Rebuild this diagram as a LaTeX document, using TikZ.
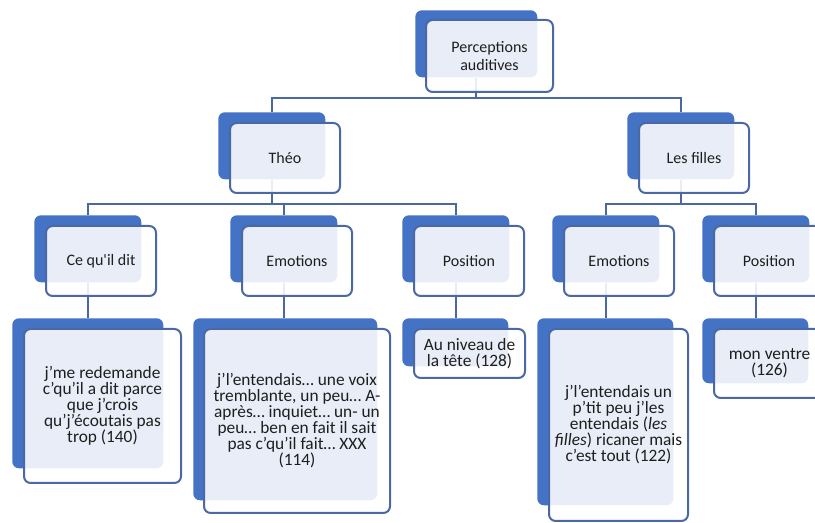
\documentclass[tikz,border=0pt]{standalone}
\usepackage{fontspec}
\setmainfont{Carlito}
\usetikzlibrary{positioning,calc,backgrounds}
\definecolor{smBlue}{RGB}{68,114,196}
\definecolor{smLine}{RGB}{74,104,164}
\definecolor{smText}{RGB}{30,30,30}
\tikzset{
  backbox/.style={fill=smBlue, rounded corners=5pt, inner sep=0pt, anchor=north west},
  frontbox/.style={draw=smLine, line width=1.5pt, fill=white, fill opacity=0.88, text opacity=1,
                   rounded corners=5pt, align=center, text=smText, inner sep=2pt, anchor=north west,
                   font=\fontsize{12}{13}\selectfont},
  leafbox/.style={frontbox, font=\fontsize{13}{12}\selectfont},
  con/.style={draw=smLine, line width=1.5pt},
}

\begin{document}
\begin{tikzpicture}[x=0.75pt, y=-0.75pt]
\useasboundingbox (0,0) rectangle (815,523);
% top
\node[backbox, minimum width=91.5pt, minimum height=50.25pt] (top-b) at (415,10) {};
\node[frontbox, minimum width=95.25pt, minimum height=54pt] (top) at ($(top-b.north west)+(10,9)$) {Perceptions\\auditives};

% second level
\node[backbox, minimum width=80.25pt, minimum height=50.25pt] (theo-b) at (218,112) {};
\node[frontbox, minimum width=82.5pt, minimum height=52.5pt] (theo) at ($(theo-b.north west)+(11,10)$) {Théo};
\node[backbox, minimum width=80.25pt, minimum height=50.25pt] (fil-b) at (627,112) {};
\node[frontbox, minimum width=82.5pt, minimum height=52.5pt] (fil) at ($(fil-b.north west)+(11,10)$) {Les filles};

% third level
\node[backbox, minimum width=80.25pt, minimum height=50.25pt] (dit-b) at (34,215) {};
\node[frontbox, minimum width=82.5pt, minimum height=52.5pt] (dit) at ($(dit-b.north west)+(11,10)$) {Ce qu\textquotesingle il dit};
\node[backbox, minimum width=80.25pt, minimum height=50.25pt] (emo-b) at (230,215) {};
\node[frontbox, minimum width=82.5pt, minimum height=52.5pt] (emo) at ($(emo-b.north west)+(11,10)$) {Emotions};
\node[backbox, minimum width=80.25pt, minimum height=50.25pt] (pos-b) at (402,215) {};
\node[frontbox, minimum width=82.5pt, minimum height=52.5pt] (pos) at ($(pos-b.north west)+(11,10)$) {Position};
\node[backbox, minimum width=80.25pt, minimum height=50.25pt] (femo-b) at (552,215) {};
\node[frontbox, minimum width=82.5pt, minimum height=52.5pt] (femo) at ($(femo-b.north west)+(11,10)$) {Emotions};
\node[backbox, minimum width=80.25pt, minimum height=50.25pt] (fpos-b) at (702,215) {};
\node[frontbox, minimum width=82.5pt, minimum height=52.5pt] (fpos) at ($(fpos-b.north west)+(11,10)$) {Position};

% quotes
\node[backbox, minimum width=113.25pt, minimum height=112.5pt] (ditq-b) at (12,318) {};
\node[leafbox, minimum width=117.75pt, minimum height=115.5pt] (ditq) at ($(ditq-b.north west)+(11,10)$)
  {j’me redemande\\c’qu’il a dit parce\\que j’crois\\qu’j’écoutais pas\\trop (140)};
\node[backbox, minimum width=138pt, minimum height=136.5pt] (emoq-b) at (193,318) {};
\node[leafbox, minimum width=139.5pt, minimum height=138pt] (emoq) at ($(emoq-b.north west)+(10,10)$)
  {j’l’entendais… une voix\\tremblante, un peu… A-\\après… inquiet… un- un\\peu… ben en fait il sait\\pas c’qu’il fait… XXX\\(114)};
\node[backbox, minimum width=79.5pt, minimum height=36pt] (posq-b) at (402,318) {};
\node[leafbox, minimum width=83.25pt, minimum height=36.75pt] (posq) at ($(posq-b.north west)+(11,10)$)
  {Au niveau de\\la tête (128)};
\node[backbox, minimum width=102pt, minimum height=140.25pt] (femoq-b) at (537,318) {};
\node[leafbox, minimum width=104.25pt, minimum height=144pt] (femoq) at ($(femoq-b.north west)+(11,10)$)
  {j’l’entendais un\\p’tit peu j’les\\entendais (\textit{les}\\\textit{filles}) ricaner mais\\c’est tout (122)};
\node[backbox, minimum width=79.5pt, minimum height=48.75pt] (fposq-b) at (702,318) {};
\node[leafbox, minimum width=83.25pt, minimum height=51.75pt] (fposq) at ($(fposq-b.north west)+(11,10)$)
  {mon ventre\\(126)};

\begin{scope}[on background layer]
\draw[con] (top-b.south) -- ++(0,20) -| (theo-b.north);
\draw[con] (top-b.south) -- ++(0,20) -| (fil-b.north);
\draw[con] (theo-b.south) -- ++(0,24) -| (dit-b.north);
\draw[con] (theo-b.south) -- ++(0,24) -| (emo-b.north);
\draw[con] (theo-b.south) -- ++(0,24) -| (pos-b.north);
\draw[con] (fil-b.south) -- ++(0,24) -| (femo-b.north);
\draw[con] (fil-b.south) -- ++(0,24) -| (fpos-b.north);
\draw[con] (dit-b.south) -- (dit-b.south |- ditq-b.north);
\draw[con] (emo-b.south) -- (emo-b.south |- emoq-b.north);
\draw[con] (pos-b.south) -- (pos-b.south |- posq-b.north);
\draw[con] (femo-b.south) -- (femo-b.south |- femoq-b.north);
\draw[con] (fpos-b.south) -- (fpos-b.south |- fposq-b.north);
\end{scope}
\end{tikzpicture}
\end{document}
